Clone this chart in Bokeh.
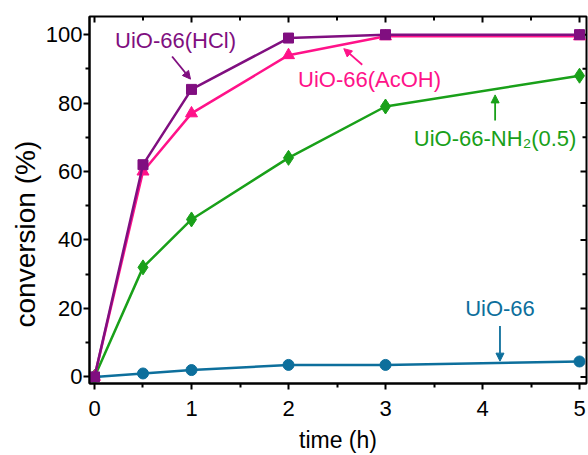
import math
from bokeh.plotting import figure
from bokeh.models import Range1d, FixedTicker, Label, Arrow, NormalHead, Title
from bokeh.embed import file_html
from bokeh.resources import INLINE

time_h = [0, 0.5, 1, 2, 3, 5]
conv_hcl = [0, 62, 84, 99, 100, 100]
conv_acoh = [0, 60, 77, 94, 99.5, 99.5]
conv_nh2 = [0, 32, 46, 64, 79, 88]
conv_uio = [0, 1, 2, 3.5, 3.5, 4.5]

x_ticks = [0, 1, 2, 3, 4, 5]
x_minor = [0.5, 1.5, 2.5, 3.5, 4.5]
y_ticks = [0, 20, 40, 60, 80, 100]
y_minor = [10, 30, 50, 70, 90]

X_MIN, X_MAX = -0.0515, 5.072
Y_MIN, Y_MAX = -1.93, 105.3

C_HCL = "#800f80"
C_ACOH = "#ff1289"
C_NH2 = "#19a019"
C_UIO = "#0d6f9c"
FONT = "Liberation Sans"

p = figure(width=588, height=455, output_backend="svg", toolbar_location=None,
           x_range=Range1d(X_MIN, X_MAX), y_range=Range1d(Y_MIN, Y_MAX),
           min_border_left=89, min_border_top=16, min_border_right=2, min_border_bottom=72)
p.grid.visible = False
p.outline_line_color = "black"
p.outline_line_width = 2

for ax, ticks, minor in ((p.xaxis[0], x_ticks, x_minor), (p.yaxis[0], y_ticks, y_minor)):
    ax.ticker = FixedTicker(ticks=ticks, minor_ticks=minor)
    ax.axis_line_width = 2
    ax.major_tick_line_width = 2
    ax.minor_tick_line_width = 2
    ax.major_tick_out = 6
    ax.major_tick_in = 0
    ax.minor_tick_out = 4
    ax.minor_tick_in = 0
    ax.major_label_text_font = FONT
    ax.major_label_text_font_size = "22px"
    ax.major_label_text_color = "black"

p.xaxis[0].major_label_standoff = 11
p.yaxis[0].major_label_standoff = 1
p.xaxis[0].axis_label = "time (h)"
p.xaxis[0].axis_label_text_font = FONT
p.xaxis[0].axis_label_text_font_size = "23px"
p.xaxis[0].axis_label_text_font_style = "normal"
p.xaxis[0].axis_label_text_color = "black"
p.xaxis[0].axis_label_standoff = 8

p.add_layout(Title(text="conversion (%)", align="left", offset=56, text_font=FONT,
                   text_font_size="28px", text_font_style="normal", text_color="black",
                   standoff=3), "left")

# inward ticks on the top and right frame edges
p.scatter([X_MAX] * len(y_ticks), y_ticks, marker="dash", size=12, line_color="black", line_width=2)
p.scatter([X_MAX] * len(y_minor), y_minor, marker="dash", size=8, line_color="black", line_width=2)
p.scatter(x_ticks, [Y_MAX] * len(x_ticks), marker="dash", angle=math.pi / 2, size=12,
          line_color="black", line_width=2)
p.scatter(x_minor, [Y_MAX] * len(x_minor), marker="dash", angle=math.pi / 2, size=8,
          line_color="black", line_width=2)

lw = 2.5
p.line(time_h, conv_uio, line_color=C_UIO, line_width=lw)
p.scatter(time_h, conv_uio, marker="circle", size=11, color=C_UIO)
p.line(time_h, conv_nh2, line_color=C_NH2, line_width=lw)
p.scatter(time_h, conv_nh2, marker="diamond", size=15, color=C_NH2)
p.line(time_h, conv_acoh, line_color=C_ACOH, line_width=lw)
p.scatter(time_h, conv_acoh, marker="triangle", size=12, color=C_ACOH)
p.line(time_h, conv_hcl, line_color=C_HCL, line_width=lw)
p.scatter(time_h, conv_hcl, marker="square", size=10, color=C_HCL)

labels = [
    ("UiO-66(HCl)", 0.835, 98.3, C_HCL),
    ("UiO-66(AcOH)", 2.835, 86.8, C_ACOH),
    ("UiO-66-NH₂(0.5)", 4.13, 69.6, C_NH2),
    ("UiO-66", 4.18, 19.9, C_UIO),
]
for txt, x, y, c in labels:
    p.add_layout(Label(x=x, y=y, text=txt, text_color=c, text_font=FONT,
                       text_font_size="22px", text_align="center", text_baseline="middle"))

arrows = [
    (0.80, 93.6, 0.99, 87.0, C_HCL),
    (2.76, 91.2, 2.57, 95.9, C_ACOH),
    (4.13, 74.9, 4.13, 82.4, C_NH2),
    (4.18, 14.9, 4.18, 4.6, C_UIO),
]
for x0, y0, x1, y1, c in arrows:
    p.add_layout(Arrow(x_start=x0, y_start=y0, x_end=x1, y_end=y1, line_color=c, line_width=1.8,
                       end=NormalHead(size=8, fill_color=c, line_color=c)))

open("out.html", "w").write(file_html(p, INLINE))
